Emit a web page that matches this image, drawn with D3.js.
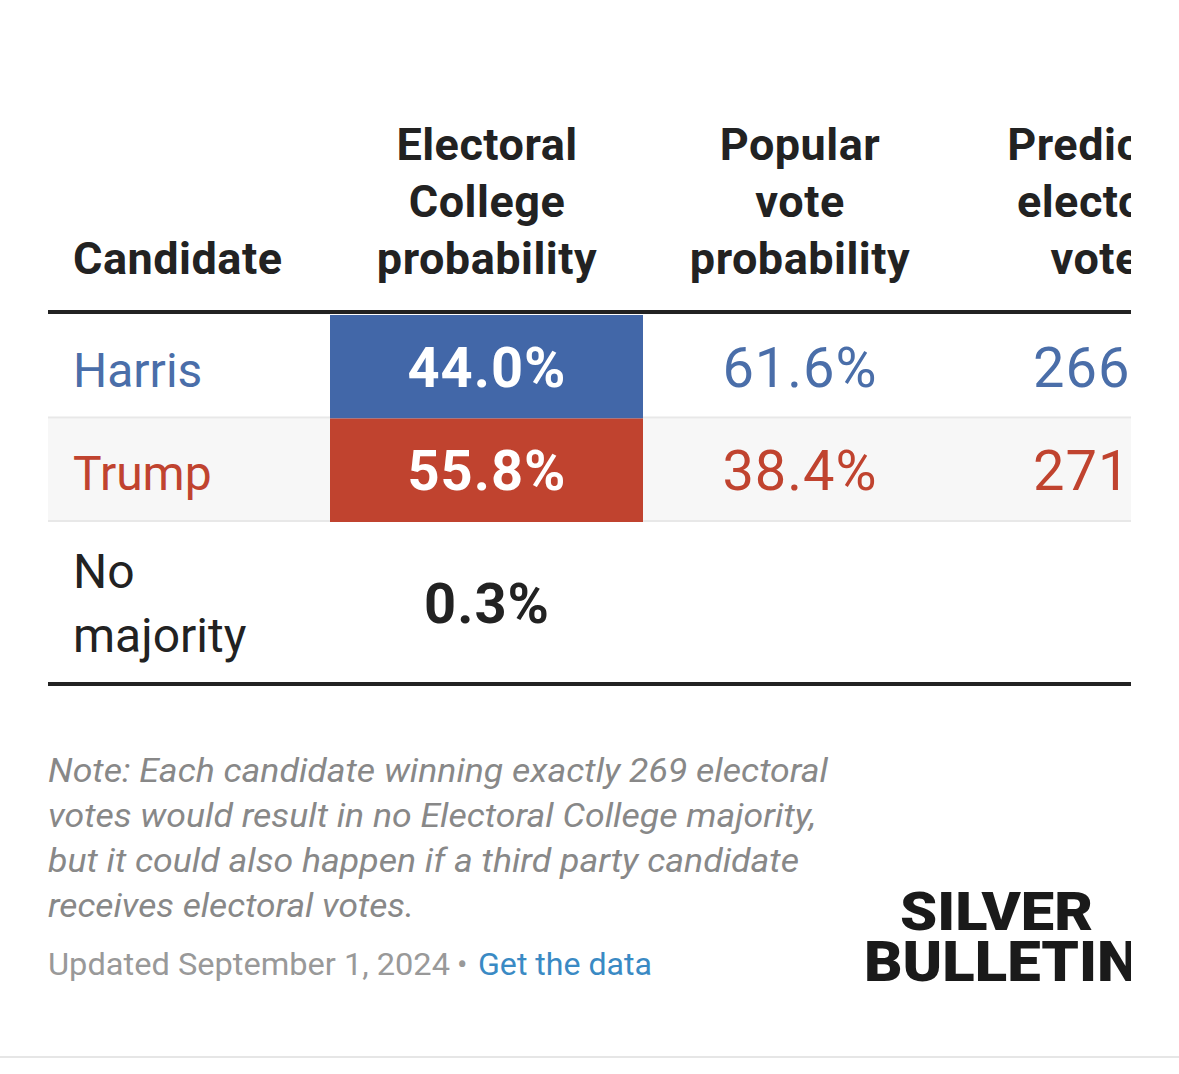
<!DOCTYPE html><html><head><meta charset="utf-8">
<script src="https://cdn.jsdelivr.net/npm/d3@7"></script>
<style>body{margin:0;background:#fff}svg{font-family:Roboto,sans-serif}</style></head><body>
<script>
const candidates=["Harris","Trump"];
const ecProb=[44.0,55.8];
const popProb=[61.6,38.4];
const evotes=[266,271];
const noMajority=0.3;
const fills=["#4267a8","#c0432f"];
const textCols=["#4a6ea9","#c0432f"];
const headers=[["Candidate"],["Electoral","College","probability"],["Popular","vote","probability"],["Predicted","electoral","votes"]];
const noteLines=["Note: Each candidate winning exactly 269 electoral","votes would result in no Electoral College majority,","but it could also happen if a third party candidate","receives electoral votes."];
const noteWidths=[780,768,751,366];

const W=1179,H=1074;
const svg=d3.select("body").append("svg").attr("width",W).attr("height",H);
svg.append("clipPath").attr("id","c").append("rect").attr("x",0).attr("y",0).attr("width",1131).attr("height",H);
const g=svg.append("g").attr("clip-path","url(#c)");
const y=d3.scaleBand().domain(candidates).range([315,522]);
g.selectAll(".bg").data(candidates).join("rect").attr("x",48).attr("width",1083)
 .attr("y",d=>y(d)).attr("height",y.bandwidth()).attr("fill",(d,i)=>i==1?"#f7f7f7":"#fff");
g.selectAll(".ln").data(candidates).join("rect").attr("x",48).attr("width",1083)
 .attr("y",d=>y(d)+y.bandwidth()-2).attr("height",2).attr("fill","#e8e8e8");
g.selectAll(".ec").data(candidates).join("rect").attr("x",330).attr("width",313)
 .attr("y",d=>y(d)).attr("height",y.bandwidth()).attr("fill",(d,i)=>fills[i]);
const cx=[73,487,800,1107];
headers.forEach((h,j)=>{h.forEach((t,k)=>{g.append("text").attr("x",cx[j]).attr("y",274-(h.length-1-k)*57)
 .attr("text-anchor",j==0?"start":"middle").attr("font-size",45).attr("font-weight",700).attr("fill","#222").attr("letter-spacing",0.5).text(t);});});
g.append("rect").attr("x",48).attr("y",310).attr("width",1083).attr("height",4).attr("fill","#222");
candidates.forEach((c,i)=>{const yy=y(c)+y.bandwidth()/2+20;
 g.append("text").attr("x",73).attr("y",yy).attr("font-size",48).attr("fill",textCols[i]).text(c);
 g.append("text").attr("x",487).attr("y",yy).attr("text-anchor","middle").attr("font-size",56).attr("font-weight",700).attr("fill","#fff").attr("letter-spacing",1).text(ecProb[i].toFixed(1)+"%");
 g.append("text").attr("x",800).attr("y",yy).attr("text-anchor","middle").attr("font-size",56).attr("fill",textCols[i]).attr("letter-spacing",1).text(popProb[i].toFixed(1)+"%");
 g.append("text").attr("x",1033).attr("y",yy).attr("font-size",56).attr("fill",textCols[i]).attr("letter-spacing",1).text(evotes[i]);
});
g.append("text").attr("x",73).attr("y",588).attr("font-size",48).attr("fill","#222").text("No");
g.append("text").attr("x",73).attr("y",652).attr("font-size",48).attr("fill","#222").text("majority");
g.append("text").attr("x",487).attr("y",623).attr("text-anchor","middle").attr("font-size",56).attr("font-weight",700).attr("fill","#222").attr("letter-spacing",1).text(noMajority.toFixed(1)+"%");
g.append("rect").attr("x",48).attr("y",682).attr("width",1083).attr("height",4).attr("fill","#222");
noteLines.forEach((t,k)=>
 svg.append("text").attr("x",48).attr("y",782+k*45).attr("font-size",33).attr("font-style","italic").attr("fill","#888")
  .attr("textLength",noteWidths[k]).attr("lengthAdjust","spacingAndGlyphs").text(t));
svg.append("text").attr("x",48).attr("y",975).attr("font-size",31).attr("fill","#999").attr("textLength",402).attr("lengthAdjust","spacingAndGlyphs").text("Updated September 1, 2024");
svg.append("text").attr("x",457).attr("y",975).attr("font-size",31).attr("fill","#999").text("•");
svg.append("text").attr("x",478).attr("y",975).attr("font-size",31).attr("fill","#3a8ac4").attr("textLength",174).attr("lengthAdjust","spacingAndGlyphs").text("Get the data");
svg.append("text").attr("x",1093).attr("y",930).attr("text-anchor","end").attr("font-size",54).attr("font-weight",900).attr("fill","#1a1a1a").attr("textLength",193).attr("lengthAdjust","spacingAndGlyphs").text("SILVER");
g.append("text").attr("x",864).attr("y",981).attr("font-size",56).attr("font-weight",900).attr("fill","#1a1a1a").attr("textLength",275).attr("lengthAdjust","spacingAndGlyphs").text("BULLETIN");
svg.append("rect").attr("x",0).attr("y",1056).attr("width",W).attr("height",2).attr("fill","#e6e6e6");
</script></body></html>
